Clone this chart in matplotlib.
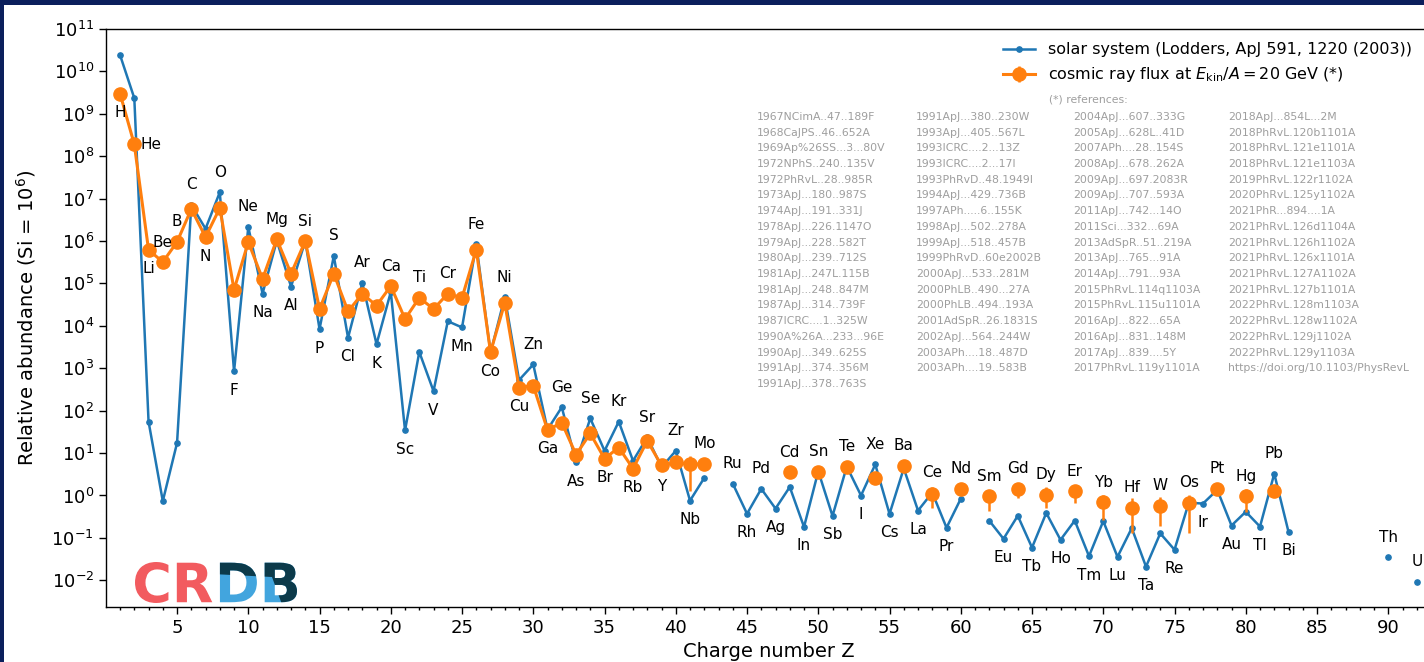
import numpy as np
import pandas as pd
import matplotlib
matplotlib.use("Agg")
import matplotlib.pyplot as plt
from matplotlib.patches import Rectangle, Polygon, PathPatch
from matplotlib.textpath import TextPath
from matplotlib.font_manager import FontProperties
from matplotlib.transforms import Affine2D, IdentityTransform

W, H = 1424, 662

# solar system abundances (Lodders 2003), Si = 1e6
sol_z = list(range(1, 43)) + list(range(44, 61)) + list(range(62, 84)) + [90, 92]
sol_name = ["H", "He", "Li", "Be", "B", "C", "N", "O", "F", "Ne", "Na", "Mg", "Al", "Si",
            "P", "S", "Cl", "Ar", "K", "Ca", "Sc", "Ti", "V", "Cr", "Mn", "Fe", "Co", "Ni",
            "Cu", "Zn", "Ga", "Ge", "As", "Se", "Br", "Kr", "Rb", "Sr", "Y", "Zr", "Nb", "Mo",
            "Ru", "Rh", "Pd", "Ag", "Cd", "In", "Sn", "Sb", "Te", "I", "Xe", "Cs", "Ba", "La",
            "Ce", "Pr", "Nd",
            "Sm", "Eu", "Gd", "Tb", "Dy", "Ho", "Er", "Tm", "Yb", "Lu", "Hf", "Ta", "W", "Re",
            "Os", "Ir", "Pt", "Au", "Hg", "Tl", "Pb", "Bi",
            "Th", "U"]
sol_val = [2.431e10, 2.343e9, 55.47, 0.7374, 17.32, 7.079e6, 1.950e6, 1.413e7, 841.1,
           2.148e6, 5.751e4, 1.020e6, 8.410e4, 1.0e6, 8373, 4.449e5, 5237, 1.025e5, 3692,
           6.287e4, 34.20, 2422, 288.4, 1.286e4, 9168, 8.380e5, 2323, 4.780e4, 527, 1226,
           35.97, 120.6, 6.089, 65.79, 11.32, 55.15, 6.572, 23.64, 4.608, 11.33, 0.7554, 2.601,
           1.900, 0.3708, 1.435, 0.4913, 1.584, 0.1810, 3.733, 0.3292, 4.815, 0.9975, 5.391,
           0.3671, 4.351, 0.4405, 1.169, 0.1737, 0.8355,
           0.2542, 0.09513, 0.3321, 0.05907, 0.3862, 0.08986, 0.2554, 0.0370, 0.2484, 0.03572,
           0.1699, 0.02099, 0.1277, 0.05254, 0.6738, 0.6448, 1.357, 0.1955, 0.4128, 0.1845,
           3.258, 0.1388,
           0.03512, 0.009306]

# cosmic ray flux at Ekin/A = 20 GeV, same normalisation
cr_z = list(range(1, 43)) + list(range(48, 84, 2))
cr_val = [3.0e9, 1.9e8, 6.2e5, 3.2e5, 9.5e5, 5.7e6, 1.24e6, 6.0e6, 7.1e4, 9.5e5, 1.28e5,
          1.1e6, 1.7e5, 1.0e6, 2.5e4, 1.7e5, 2.2e4, 5.7e4, 3.0e4, 8.7e4, 1.45e4, 4.6e4, 2.5e4,
          5.7e4, 4.6e4, 6.2e5, 2.4e3, 3.5e4, 350, 390, 35, 52, 9.2, 29, 7.4, 13.5, 4.3, 19.5,
          5.1, 6.0, 5.4, 5.6,
          3.5, 3.5, 4.6, 2.65, 5.0, 1.1, 1.45, 0.95, 1.45, 1.05, 1.25, 0.69, 0.52, 0.58, 0.65,
          1.45, 0.95, 1.25]
err_z = [41, 58, 60, 62, 64, 66, 68, 70, 72, 74, 76, 78, 80, 82]
err_lo = [1.3, 0.52, 1.1, 0.44, 0.85, 0.52, 0.68, 0.26, 0.13, 0.19, 0.13, 1.3, 0.4, 1.05]
err_hi = [8.7, 1.6, 1.9, 1.3, 1.9, 1.55, 1.65, 1.0, 0.85, 0.9, 1.05, 1.6, 1.45, 1.45]

refs = ["1967NCimA..47..189F", "1968CaJPS..46..652A", "1969Ap%26SS...3...80V",
        "1972NPhS..240..135V", "1972PhRvL..28..985R", "1973ApJ...180..987S",
        "1974ApJ...191..331J", "1978ApJ...226.1147O", "1979ApJ...228..582T",
        "1980ApJ...239..712S", "1981ApJ...247L.115B", "1981ApJ...248..847M",
        "1987ApJ...314..739F", "1987ICRC....1..325W", "1990A%26A...233...96E",
        "1990ApJ...349..625S", "1991ApJ...374..356M", "1991ApJ...378..763S",
        "1991ApJ...380..230W", "1993ApJ...405..567L", "1993ICRC....2...13Z",
        "1993ICRC....2...17I", "1993PhRvD..48.1949I", "1994ApJ...429..736B",
        "1997APh.....6..155K", "1998ApJ...502..278A", "1999ApJ...518..457B",
        "1999PhRvD..60e2002B", "2000ApJ...533..281M", "2000PhLB..490...27A",
        "2000PhLB..494..193A", "2001AdSpR..26.1831S", "2002ApJ...564..244W",
        "2003APh....18..487D", "2003APh....19..583B",
        "2004ApJ...607..333G", "2005ApJ...628L..41D", "2007APh....28..154S",
        "2008ApJ...678..262A", "2009ApJ...697.2083R", "2009ApJ...707..593A",
        "2011ApJ...742...14O", "2011Sci...332...69A", "2013AdSpR..51..219A",
        "2013ApJ...765...91A", "2014ApJ...791...93A", "2015PhRvL.114q1103A",
        "2015PhRvL.115u1101A", "2016ApJ...822...65A", "2016ApJ...831..148M",
        "2017ApJ...839....5Y", "2017PhRvL.119y1101A",
        "2018ApJ...854L...2M", "2018PhRvL.120b1101A", "2018PhRvL.121e1101A",
        "2018PhRvL.121e1103A", "2019PhRvL.122r1102A", "2020PhRvL.125y1102A",
        "2021PhR...894....1A", "2021PhRvL.126d1104A", "2021PhRvL.126h1102A",
        "2021PhRvL.126x1101A", "2021PhRvL.127A1102A", "2021PhRvL.127b1101A",
        "2022PhRvL.128m1103A", "2022PhRvL.128w1102A", "2022PhRvL.129j1102A",
        "2022PhRvL.129y1103A", "https://doi.org/10.1103/PhysRevL"]
ref_cols = [18, 17, 17, 17]

# full Z grid, gaps become NaN so the lines break
z_all = np.arange(1, 93)
sol = pd.Series(sol_val, index=sol_z).reindex(z_all)
cr = pd.Series(cr_val, index=cr_z).reindex(z_all)
lo = pd.Series(err_lo, index=err_z).reindex(z_all).fillna(cr)
hi = pd.Series(err_hi, index=err_z).reindex(z_all).fillna(cr)
yerr = np.array([(cr - lo).fillna(0).values, (hi - cr).fillna(0).values])

fig = plt.figure(figsize=(W / 100, H / 100), dpi=100, facecolor="#0b1f5c")
fig.add_artist(Rectangle((4 / W, 0), 1, 1 - 5 / H, transform=fig.transFigure,
                         facecolor="white", edgecolor="none", zorder=-10))

ax = fig.add_axes([105.8 / W, 1 - 607 / H, (1431 - 105.8) / W, 578 / H])

ax.plot(z_all, sol, "-o", color="#1f77b4", lw=1.8, ms=3.8,
        label="solar system (Lodders, ApJ 591, 1220 (2003))")
ax.errorbar(z_all, cr, yerr=yerr, fmt="-o", color="#ff7f0e", lw=2.2, ms=9.5,
            elinewidth=1.8, capsize=0,
            label=r"cosmic ray flux at $E_\mathrm{kin}/A = 20$ GeV (*)")

# element names above even / below odd Z
for z, name in zip(sol_z, sol_name):
    pts = [sol[z]] + ([cr[z]] if not np.isnan(cr[z]) else [])
    if z == 2:
        ax.annotate(name, (z, cr[z]), xytext=(6, 0), textcoords="offset pixels",
                    ha="left", va="center", fontsize=11)
        continue
    if z == 3:
        y, dy = cr[z], -19
    elif z % 2 == 0 or z == 5:
        y, dy = max(pts), 20
    else:
        y, dy = min(pts), -19
    ax.annotate(name, (z, y), xytext=(0, dy), textcoords="offset pixels",
                ha="center", va="center", fontsize=11)

ax.set_yscale("log")
ax.set_xlim(0, 93)
ax.set_ylim(10 ** -2.63, 1e11)
ax.set_yticks([10.0 ** k for k in range(-2, 12)])
ax.yaxis.set_minor_locator(matplotlib.ticker.NullLocator())
ax.set_xticks(range(5, 95, 5))
ax.set_xticks(range(1, 93), minor=True)
ax.tick_params(which="major", length=5, width=1, labelsize=13)
ax.tick_params(which="minor", length=2.5, width=1)
for sp in ax.spines.values():
    sp.set_linewidth(1.0)
ax.set_xlabel("Charge number Z", fontsize=14)
ax.set_ylabel("Relative abundance (Si = $10^6$)", fontsize=14, labelpad=10)

ax.legend(loc="upper right", bbox_to_anchor=(1418 / W, 1 - 36 / H),
          bbox_transform=fig.transFigure, frameon=False, fontsize=11.5,
          handlelength=2.0, borderaxespad=0)

# reference list
fig.text(1088 / W, 1 - 100 / H, "(*) references:", ha="center", va="center",
         fontsize=7.8, color="0.62")
col_x = [757, 916, 1073, 1228]
start = 0
for cx, n in zip(col_x, ref_cols):
    for i, r in enumerate(refs[start:start + n]):
        fig.text(cx / W, 1 - (117 + 15.7 * i) / H, r, ha="left", va="center",
                 fontsize=7.8, color="0.62")
    start += n

# CRDB logo, drawn as glyph outlines so that it can be clipped
fp = FontProperties(family="DejaVu Sans", weight="bold")
p_cr = TextPath((0, 0), "CR", size=1, prop=fp)
p_db = TextPath((p_cr.get_extents().x1 + 0.05, 0), "DB", size=1, prop=fp)
x0 = p_cr.get_extents().x0
x1 = p_db.get_extents().x1
y0 = min(p_cr.get_extents().y0, p_db.get_extents().y0)
y1 = max(p_cr.get_extents().y1, p_db.get_extents().y1)
logo_tr = (Affine2D().translate(-x0, -y0)
           .scale(162 / (x1 - x0), 41 / (y1 - y0))
           .translate(135, H - 603))
fig.add_artist(PathPatch(p_cr, transform=logo_tr, facecolor="#f25b5f", edgecolor="none",
                         zorder=5))
fig.add_artist(PathPatch(p_db, transform=logo_tr, facecolor="#42a5de", edgecolor="none",
                         zorder=5))
dark = PathPatch(p_db, transform=logo_tr, facecolor="#0c3a4a", edgecolor="none", zorder=6)
clip_px = np.array([(212, 545), (305, 545), (305, 610), (284, 610), (272, 577), (212, 574)])
clip = Polygon(np.column_stack([clip_px[:, 0], H - clip_px[:, 1]]),
               transform=IdentityTransform())
dark.set_clip_path(clip)
fig.add_artist(dark)

fig.savefig("out.png", dpi=100, facecolor=fig.get_facecolor())
